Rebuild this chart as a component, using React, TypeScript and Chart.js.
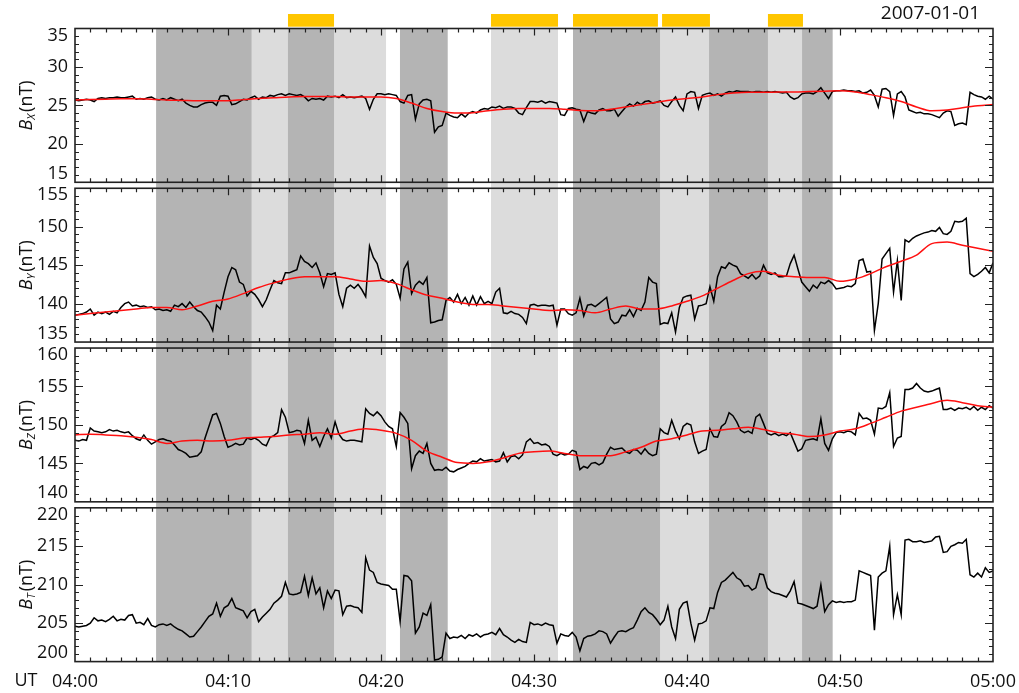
import { useEffect, useRef } from "react";
import { Chart, registerables } from "chart.js";

Chart.register(...registerables);

// Sampling of the series (minutes after 04:00 UT)
const FINE_STEP_MIN = 0.25;
const SMOOTH_STEP_MIN = 1;

const BX_RAW = [
  25.7, 25.6, 25.7, 25.8, 25.7, 25.5, 25.9, 26.0, 25.9, 26.0, 26.0, 26.1,
  26.0, 26.0, 26.1, 26.2, 25.8, 25.9, 25.8, 26.0, 26.1, 25.8, 25.7, 25.9,
  25.7, 26.0, 25.8, 25.6, 25.8, 25.3, 25.0, 24.8, 24.8, 25.1, 25.3, 25.4,
  25.4, 25.0, 26.2, 26.3, 26.2, 25.1, 25.2, 25.5, 25.8, 25.7, 26.0, 26.2,
  25.8, 26.1, 26.0, 26.3, 26.2, 26.4, 26.5, 26.3, 26.5, 26.4, 26.3, 26.4,
  26.1, 25.6, 25.9, 25.8, 25.9, 25.7, 26.2, 26.1, 26.2, 26.0, 26.4, 26.0,
  26.1, 26.0, 26.1, 26.2, 25.9, 24.5, 25.8, 26.5, 26.5, 26.4, 26.5, 26.4,
  26.3, 25.5, 25.3, 26.3, 26.4, 23.2, 25.2, 25.7, 25.8, 25.6, 21.5, 22.2,
  22.4, 24.0, 23.7, 23.5, 23.4, 23.9, 23.5, 24.0, 24.2, 24.0, 24.4, 24.6,
  24.5, 24.8, 24.7, 24.9, 24.6, 24.8, 24.8, 24.6, 24.0, 23.8, 24.7, 25.5,
  25.5, 25.4, 25.6, 25.3, 25.5, 25.4, 25.3, 23.8, 23.7, 24.6, 24.7, 24.5,
  24.4, 22.9, 24.2, 24.0, 23.9, 24.4, 24.6, 24.3, 24.3, 24.5, 23.6, 24.2,
  24.8, 25.2, 24.9, 25.4, 25.1, 25.5, 25.6, 25.3, 25.4, 25.6, 25.0, 24.8,
  25.5, 26.1, 25.0, 24.3, 26.5, 26.8, 26.7, 24.6, 26.3, 26.5, 26.6, 26.3,
  26.5, 26.2, 26.6, 26.8, 26.7, 26.9, 26.8, 26.8, 26.8, 26.7, 26.8, 26.8,
  26.7, 26.8, 26.7, 26.8, 26.7, 26.6, 26.7, 26.1, 25.8, 26.0, 26.5, 26.6,
  26.6, 26.5, 26.8, 27.3, 26.6, 25.9, 26.8, 26.9, 26.9, 27.0, 26.9, 26.9,
  26.8, 26.9, 26.6, 26.7, 27.0, 26.3, 24.8, 27.1, 27.2, 26.8, 23.7, 26.5,
  26.8, 26.1, 24.4, 24.2, 24.0, 24.1, 23.9, 23.9, 23.8, 23.6, 23.4, 24.0,
  24.3, 24.2, 22.4, 22.6, 22.7, 22.5, 26.7, 26.4, 26.2, 26.1, 25.8, 26.2,
  25.8,
];

const BX_SMOOTH = [
  25.7, 25.75, 25.8, 25.85, 25.85, 25.8, 25.7, 25.65, 25.6, 25.6, 25.6,
  25.75, 25.9, 26.0, 26.1, 26.15, 26.15, 26.15, 26.1, 26.1, 26.1, 25.9,
  25.3, 24.6, 24.2, 24.0, 24.05, 24.3, 24.5, 24.6, 24.6, 24.6, 24.5,
  24.35, 24.3, 24.5, 24.8, 25.1, 25.4, 25.7, 25.9, 26.1, 26.4, 26.6,
  26.7, 26.7, 26.75, 26.75, 26.8, 26.85, 26.9, 26.75, 26.4, 26.0, 25.5,
  24.8, 24.3, 24.4, 24.7, 24.95, 25.1,
];

const BY_RAW = [
  138.5, 138.6, 138.7, 138.9, 139.3, 138.5, 138.9, 138.7, 138.9, 138.6, 139.0, 138.8,
  139.5, 140.0, 140.2, 139.7, 139.8, 139.6, 139.7, 139.5, 139.6, 139.2, 139.3, 139.1,
  139.2, 139.0, 139.8, 139.6, 140.0, 139.5, 140.2, 139.6, 139.1, 138.9, 138.3, 137.6,
  136.5, 139.8, 139.3, 141.5, 143.5, 144.7, 144.4, 142.8, 142.5, 141.0, 141.6, 141.2,
  140.5, 139.6, 140.5, 141.8, 143.0, 142.7, 142.6, 144.0, 144.0, 144.2, 144.4, 146.2,
  145.5, 145.2, 144.7, 145.3, 144.0, 142.2, 143.9, 143.8, 144.0, 141.2, 139.6, 142.0,
  142.4, 142.0, 142.5, 141.8, 140.9, 147.5, 146.0, 145.2, 143.3, 143.0, 142.8, 143.1,
  142.5, 140.7, 144.5, 145.4, 141.3, 142.4, 142.9, 142.5, 143.4, 137.5, 137.6, 137.8,
  137.9, 140.4, 140.8, 140.2, 141.2, 140.0, 140.8, 139.8, 141.0, 139.8, 140.9, 140.0,
  140.3, 140.0, 141.5, 142.0, 138.8, 138.7, 139.0, 138.7, 138.6, 138.2, 137.4, 139.8,
  139.9, 139.7, 139.8, 139.8, 139.7, 139.8, 137.2, 139.3, 139.3, 138.7, 138.5, 138.8,
  140.7, 138.4, 139.8, 139.9, 139.6, 140.0, 140.4, 140.8, 138.0, 137.4, 137.6, 138.5,
  138.4, 139.2, 138.3, 139.4, 139.1, 140.2, 143.4, 142.8, 142.6, 137.3, 137.5, 137.4,
  138.8, 136.3, 139.5, 140.8, 141.0, 141.1, 138.0, 139.7, 139.8, 140.0, 142.2, 140.3,
  143.5, 144.8, 144.6, 145.3, 145.0, 144.8, 143.9, 143.6, 143.3, 143.8, 143.2, 143.6,
  145.0, 144.0, 143.8, 144.0, 143.5, 143.5, 143.6, 145.2, 146.3, 144.5, 142.8, 142.2,
  141.6, 142.4, 142.0, 142.8, 142.6, 143.0, 142.6, 141.9, 142.0, 142.1, 142.3, 142.2,
  142.6, 145.6, 145.8, 144.1, 144.2, 136.5, 140.0, 145.8, 146.5, 147.2, 141.5, 145.6,
  140.4, 148.3, 148.0, 148.5, 148.8, 149.0, 149.2, 149.3, 149.5, 149.4, 149.9, 149.1,
  149.0, 149.4, 150.7, 150.6, 150.7, 151.1, 143.9, 143.5, 143.8, 144.2, 144.7, 144.0,
  145.3,
];

const BY_SMOOTH = [
  138.5, 138.7, 138.9, 139.1, 139.3, 139.5, 139.5, 139.2, 139.7, 140.3, 140.6,
  141.3, 142.1, 142.7, 143.2, 143.5, 143.5, 143.5, 143.2, 142.9, 143.0, 142.6,
  141.8, 141.1, 140.7, 140.2, 139.9, 139.9, 139.7, 139.5, 139.3, 139.1, 139.2,
  139.1, 138.8, 139.3, 139.7, 139.3, 139.3, 139.7, 140.3, 141.0, 142.0, 143.0,
  143.9, 144.2, 143.7, 143.5, 143.4, 143.4, 142.9, 143.2, 143.9, 144.8, 145.5,
  146.3, 147.8, 148.0, 147.6, 147.2, 146.8,
];

const BZ_RAW = [
  148.0, 147.9, 148.1, 148.0, 149.6, 149.2, 149.1, 149.0, 149.1, 149.4, 149.2, 149.3,
  149.1, 149.0, 149.1, 148.6, 148.2, 148.0, 148.7, 148.0, 147.5, 147.8, 148.1, 148.2,
  148.0, 147.9, 147.4, 146.8, 146.6, 146.3, 145.8, 145.9, 146.0, 146.5, 148.3, 149.8,
  151.3, 151.5, 150.2, 148.5, 147.1, 147.3, 147.6, 147.4, 147.5, 148.3, 148.1, 148.3,
  148.0, 147.5, 147.3, 148.4, 148.6, 149.0, 152.0, 151.0, 149.0, 149.1, 149.3, 149.2,
  147.6, 150.6, 148.0, 148.4, 147.2, 148.5, 149.5, 148.3, 150.4, 148.8, 148.1, 147.9,
  148.0, 148.0, 147.9, 147.8, 152.1, 151.5, 151.2, 151.7, 151.2, 150.4, 149.8, 149.5,
  147.2, 151.6, 151.0, 150.2, 144.3, 146.0, 146.6, 146.3, 147.6, 145.0, 144.1, 144.2,
  144.1, 144.5, 144.0, 143.9, 144.2, 144.4, 144.6, 145.0, 145.3, 145.2, 145.6, 145.3,
  145.4, 145.5, 145.2, 145.3, 146.4, 145.2, 145.9, 146.0, 145.6, 146.1, 147.8, 148.2,
  147.6, 147.7, 147.4, 147.5, 147.2, 146.2, 146.0, 146.3, 146.1, 146.2, 146.7, 146.5,
  144.2, 144.6, 144.4, 145.0, 145.1, 144.8, 145.1, 146.2, 147.1, 146.8, 146.9, 147.0,
  146.5, 146.3, 146.8, 146.7, 146.2, 146.9, 146.3, 146.0, 146.2, 149.5, 149.0, 148.8,
  150.6, 149.2, 148.2, 149.8, 150.2, 150.0, 147.8, 146.3, 146.6, 146.8, 149.5, 148.5,
  148.4, 149.8, 150.2, 151.6, 151.2, 150.4, 149.3, 149.0, 149.2, 148.9, 151.0, 151.4,
  150.2, 148.9, 148.7, 148.9, 148.6, 148.8, 148.6, 149.0, 147.8, 146.6, 146.9, 148.0,
  148.1, 148.2, 148.0, 150.8, 147.6, 146.7, 148.2, 149.0, 149.1, 149.0, 149.2, 149.1,
  148.7, 151.5, 150.8, 150.9, 150.6, 148.8, 152.2, 152.1, 152.4, 154.2, 147.2, 148.3,
  148.5, 154.6, 154.6, 154.8, 155.4, 154.8, 154.4, 154.3, 154.4, 154.6, 154.8, 152.0,
  152.0, 152.2, 151.9, 152.2, 152.1, 152.3, 152.0, 152.4, 151.9, 152.3, 152.0, 152.5,
  152.2,
];

const BZ_SMOOTH = [
  148.7, 148.8, 148.7, 148.6, 148.4, 148.1, 147.6, 147.9, 148.0, 147.9, 148.0,
  148.3, 148.4, 148.5, 148.7, 148.8, 149.0, 148.8, 149.2, 149.5, 149.3, 148.9,
  148.0, 146.6, 145.8, 145.1, 145.0, 145.2, 145.7, 146.3, 146.5, 146.6, 146.3,
  146.0, 146.0, 146.0, 146.5, 147.1, 147.9, 148.2, 148.7, 149.2, 149.3, 149.5,
  149.7, 149.4, 149.0, 148.8, 148.5, 148.7, 149.2, 149.5, 150.2, 151.0, 151.8,
  152.3, 152.8, 153.2, 152.9, 152.5, 152.3,
];

const BT_RAW = [
  204.6, 204.5, 204.6, 204.7, 205.0, 205.7, 205.3, 205.4, 205.2, 205.5, 205.9, 205.3,
  205.5, 205.4, 206.0, 206.1, 205.0, 205.1, 204.8, 205.6, 204.7, 204.5, 204.8, 204.9,
  204.7, 204.9, 204.5, 204.2, 204.0, 203.6, 203.2, 203.3, 203.9, 204.5, 205.2, 205.9,
  206.2, 207.6, 205.9, 207.0, 207.3, 208.2, 207.0, 206.8, 206.6, 205.7, 206.5, 206.8,
  205.2, 205.8, 206.3, 206.8, 207.6, 208.0, 208.5, 210.3, 208.8, 208.7, 208.8, 209.0,
  211.1, 208.6, 210.9, 208.8, 209.6, 207.0, 209.2, 208.2, 209.3, 209.2, 206.1, 207.2,
  207.3, 207.1, 207.0, 206.4, 213.5, 211.9, 211.6, 210.3, 210.1, 210.0, 209.9, 209.4,
  209.4, 205.2, 211.2, 211.1, 210.5, 203.7, 204.5, 206.3, 206.0, 207.4, 200.2, 200.3,
  200.6, 203.7, 203.0, 203.2, 203.1, 203.4, 203.0, 203.5, 203.3, 203.6, 203.2, 203.5,
  203.6, 203.8, 203.5, 204.3, 203.5, 203.2, 202.8, 202.5, 202.9, 202.6, 202.5, 205.1,
  204.8, 204.9, 204.7, 205.0, 204.8, 204.7, 202.4, 203.6, 203.4, 203.3, 203.8, 203.2,
  201.4, 203.0, 203.3, 203.4, 203.6, 204.0, 203.9, 203.6, 202.4, 203.2, 203.9, 204.0,
  203.9, 204.2, 204.4, 205.4, 206.5, 207.0, 206.4, 206.1, 205.5, 204.8, 205.4, 207.2,
  204.5, 203.0, 206.8, 207.6, 207.8, 205.0, 202.8, 204.9, 205.0, 205.3, 207.0, 206.9,
  209.0, 210.3, 210.6, 211.1, 211.6, 210.9, 210.6, 209.8, 209.9, 209.3, 209.6, 211.4,
  211.3, 209.6, 209.1, 208.9, 208.8, 208.6, 208.4, 209.2, 210.4, 207.6, 207.5, 207.3,
  207.1, 206.9, 207.2, 210.0, 206.5, 207.4, 207.9, 207.7, 207.8, 207.7, 207.8, 207.8,
  208.0, 211.8, 211.6, 211.4, 211.2, 204.1, 211.0, 211.5, 211.8, 215.0, 206.1, 208.7,
  206.1, 215.8, 215.9, 215.6, 215.6, 215.7, 215.5, 215.6, 215.7, 216.2, 216.3, 214.2,
  214.3, 215.0, 215.2, 215.5, 215.4, 215.9, 211.3, 211.0, 211.5, 211.0, 212.2, 211.6,
  211.8,
];

// Axis ticks
const X_TICK_MINUTES = [0, 10, 20, 30, 40, 50, 60];
const X_TICK_LABELS = ["04:00", "04:10", "04:20", "04:30", "04:40", "04:50", "05:00"];
const BX_TICKS = [15, 20, 25, 30, 35];
const BY_TICKS = [135, 140, 145, 150, 155];
const BZ_TICKS = [140, 145, 150, 155, 160];
const BT_TICKS = [200, 205, 210, 215, 220];

// Interval shading and marked intervals (minutes after 04:00)
const DARK_BANDS = [
  [5.3, 11.55], [13.92, 16.93], [21.24, 24.36], [32.55, 38.24], [41.44, 45.29], [47.52, 49.52],
];
const LIGHT_BANDS = [
  [11.55, 13.92], [16.93, 20.33], [27.19, 31.57], [38.24, 41.44], [45.29, 47.52],
];
const ORANGE_BARS = [
  [13.92, 16.93], [27.19, 31.57], [32.55, 38.1], [38.37, 41.5], [45.29, 47.58],
];

const DATE_LABEL = "2007-01-01";
const UT_LABEL = "UT";

const FONT = "'Open Sans', 'Noto Sans', sans-serif";

const PANELS = [
  { id: "yBx", comp: "X", raw: BX_RAW, smooth: BX_SMOOTH, min: 15, max: 35, ticks: BX_TICKS },
  { id: "yBy", comp: "Y", raw: BY_RAW, smooth: BY_SMOOTH, min: 135, max: 155, ticks: BY_TICKS },
  { id: "yBz", comp: "Z", raw: BZ_RAW, smooth: BZ_SMOOTH, min: 140, max: 160, ticks: BZ_TICKS },
  { id: "yBt", comp: "T", raw: BT_RAW, smooth: null as number[] | null, min: 200, max: 220, ticks: BT_TICKS },
];

const W = 1019;
const H = 693;
const AXIS_W = 75;

const decorPlugin = {
  id: "decor",
  beforeDatasetsDraw(chart: any) {
    const { ctx, scales } = chart;
    const xs = scales.x;
    const top = scales.yBx.top;
    const bottom = scales.yBt.bottom;
    ctx.save();
    const band = (list: number[][], color: string) => {
      ctx.fillStyle = color;
      list.forEach(([a, b]) => {
        const x0 = xs.getPixelForValue(a);
        const x1 = xs.getPixelForValue(b);
        ctx.fillRect(x0, top, x1 - x0, bottom - top);
      });
    };
    band(LIGHT_BANDS, "#dcdcdc");
    band(DARK_BANDS, "#b4b4b4");
    ctx.restore();
  },
  afterDatasetsDraw(chart: any) {
    const { ctx, scales } = chart;
    const xs = scales.x;
    const left = xs.left;
    const right = xs.right;
    ctx.save();

    // orange interval bars
    ctx.fillStyle = "#ffc600";
    ORANGE_BARS.forEach(([a, b]) => {
      const x0 = xs.getPixelForValue(a);
      const x1 = xs.getPixelForValue(b);
      ctx.fillRect(x0, 14, x1 - x0, 12.7);
    });

    PANELS.forEach((p) => {
      const ys = scales[p.id];
      const top = ys.top;
      const bottom = ys.bottom;
      ctx.strokeStyle = "#222";
      ctx.lineWidth = 1.2;
      ctx.beginPath();
      // x minor/major ticks
      for (let m = 1; m < 60; m++) {
        const px = Math.round(xs.getPixelForValue(m)) + 0.5;
        const len = m % 10 === 0 ? 7 : 4;
        ctx.moveTo(px, top);
        ctx.lineTo(px, top + len);
        ctx.moveTo(px, bottom);
        ctx.lineTo(px, bottom - len);
      }
      // y ticks
      for (let v = p.min + 1; v < p.max; v++) {
        const py = Math.round(ys.getPixelForValue(v)) + 0.5;
        const len = v % 5 === 0 ? 8 : 4;
        ctx.moveTo(left, py);
        ctx.lineTo(left + len, py);
        ctx.moveTo(right, py);
        ctx.lineTo(right - len, py);
      }
      ctx.stroke();
      // frame
      ctx.lineWidth = 1.6;
      ctx.strokeRect(left, top, right - left, bottom - top);

      // y tick labels
      ctx.fillStyle = "#111";
      ctx.font = `18px ${FONT}`;
      ctx.textAlign = "right";
      ctx.textBaseline = "middle";
      p.ticks.forEach((v) => {
        let py = ys.getPixelForValue(v);
        py = Math.max(top + 7, Math.min(bottom - 8.5, py));
        ctx.fillText(String(v), left - 7, py);
      });

      // y axis title: B_c (nT)
      const cy = (top + bottom) / 2;
      ctx.save();
      ctx.translate(27, cy);
      ctx.rotate(-Math.PI / 2);
      ctx.textAlign = "left";
      ctx.textBaseline = "middle";
      const fB = `italic 18px ${FONT}`;
      const fS = `italic 11px ${FONT}`;
      const fN = `18px ${FONT}`;
      ctx.font = fB;
      const wB = ctx.measureText("B").width;
      ctx.font = fS;
      const wS = ctx.measureText(p.comp).width;
      ctx.font = fN;
      const wN = ctx.measureText("(nT)").width;
      const total = wB + wS + 2 + wN;
      let xx = -total / 2;
      ctx.font = fB;
      ctx.fillText("B", xx, 0);
      xx += wB;
      ctx.font = fS;
      ctx.fillText(p.comp, xx, 5);
      xx += wS + 2;
      ctx.font = fN;
      ctx.fillText("(nT)", xx, 0);
      ctx.restore();
    });

    // date label
    ctx.fillStyle = "#111";
    ctx.font = `19px ${FONT}`;
    ctx.textAlign = "right";
    ctx.textBaseline = "middle";
    ctx.fillText(DATE_LABEL, 980, 14);

    // UT label
    ctx.font = `18px ${FONT}`;
    ctx.textAlign = "center";
    ctx.fillText(UT_LABEL, 26, 681);
    ctx.restore();
  },
};

export default function App() {
  const canvasRef = useRef<HTMLCanvasElement | null>(null);

  useEffect(() => {
    const canvas = canvasRef.current;
    if (!canvas) return;

    const datasets: any[] = [];
    PANELS.forEach((p) => {
      datasets.push({
        label: `B${p.comp}`,
        data: p.raw.map((v, i) => ({ x: i * FINE_STEP_MIN, y: v })),
        yAxisID: p.id,
        borderColor: "#000",
        borderWidth: 1.5,
        pointRadius: 0,
        tension: 0,
        order: 2,
      });
      if (p.smooth) {
        datasets.push({
          label: `B${p.comp} mean`,
          data: p.smooth.map((v, i) => ({ x: i * SMOOTH_STEP_MIN, y: v })),
          yAxisID: p.id,
          borderColor: "#ff1010",
          borderWidth: 1.5,
          pointRadius: 0,
          tension: 0.4,
          cubicInterpolationMode: "monotone",
          order: 1,
        });
      }
    });

    const yAxis = (min: number, max: number, weight: number) => ({
      type: "linear",
      position: "left",
      stack: "panels",
      stackWeight: weight,
      min,
      max,
      grid: { display: false, drawTicks: false },
      border: { display: false },
      ticks: { display: false },
      afterFit: (s: any) => {
        s.width = AXIS_W;
      },
    });

    const chart = new Chart(canvas, {
      type: "line",
      data: { datasets },
      options: {
        responsive: false,
        animation: false,
        layout: { padding: { left: 0, right: 26, top: 28.5, bottom: 0 } },
        plugins: { legend: { display: false }, tooltip: { enabled: false } },
        scales: {
          x: {
            type: "linear",
            min: 0,
            max: 60,
            grid: { display: false, drawTicks: false },
            border: { display: false },
            ticks: {
              stepSize: 10,
              autoSkip: false,
              maxRotation: 0,
              padding: 9,
              color: "#111",
              font: { size: 18, family: FONT },
              callback: (v: any) => {
                const k = X_TICK_MINUTES.indexOf(Number(v));
                return k >= 0 ? X_TICK_LABELS[k] : "";
              },
            },
            afterFit: (s: any) => {
              s.height = 31.4;
              s.paddingLeft = 0;
              s.paddingRight = 0;
            },
          },
          yBt: yAxis(200, 220, 154),
          g3: yAxis(0, 1, 6),
          yBz: yAxis(140, 160, 154),
          g2: yAxis(0, 1, 6),
          yBy: yAxis(135, 155, 154),
          g1: yAxis(0, 1, 6),
          yBx: yAxis(15, 35, 154),
        } as any,
      },
      plugins: [decorPlugin],
    } as any);

    return () => chart.destroy();
  }, []);

  return (
    <div style={{ position: "fixed", left: 0, top: 0, width: W, height: H, background: "#fff" }}>
      <canvas ref={canvasRef} width={W} height={H} style={{ width: W, height: H, display: "block" }} />
    </div>
  );
}
